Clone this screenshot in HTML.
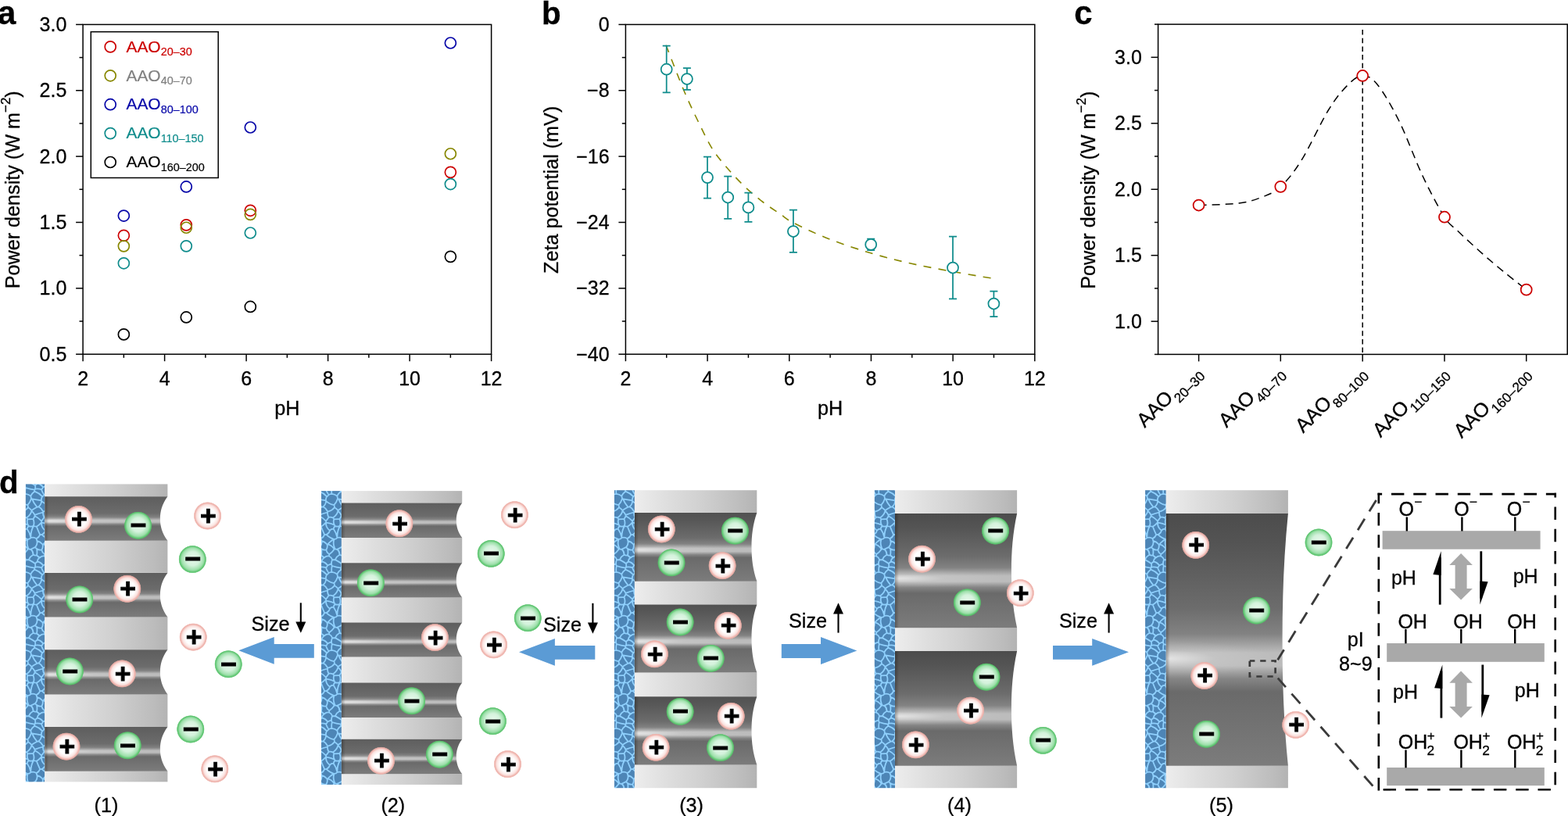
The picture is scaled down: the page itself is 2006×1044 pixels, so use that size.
<!DOCTYPE html>
<html lang="en"><head><meta charset="utf-8"><title>Figure</title>
<style>
html,body{margin:0;padding:0;background:#fff;}
body{width:2006px;height:1044px;overflow:hidden;}
svg{display:block;font-family:'Liberation Sans', sans-serif;}
text{stroke:#000;stroke-width:.3px;}
text.ion{stroke-width:.9px;}
</style></head><body>
<svg width="2006" height="1044" viewBox="0 0 2006 1044" fill="#000">
<rect width="2006" height="1044" fill="#fff"/>
<g id="pa">
<text x="-3" y="30.7" font-size="42" font-weight="bold">a</text>
<rect x="106.1" y="31.4" width="522.50" height="421.80" fill="none" stroke="#000" stroke-width="1.5"/>
<line x1="97.10" y1="453.20" x2="106.1" y2="453.20" stroke="#000" stroke-width="1.5"/>
<text x="85.30" y="461.60" text-anchor="end" font-size="25">0.5</text>
<line x1="101.50" y1="411.02" x2="106.1" y2="411.02" stroke="#000" stroke-width="1.5"/>
<line x1="97.10" y1="368.84" x2="106.1" y2="368.84" stroke="#000" stroke-width="1.5"/>
<text x="85.30" y="377.24" text-anchor="end" font-size="25">1.0</text>
<line x1="101.50" y1="326.66" x2="106.1" y2="326.66" stroke="#000" stroke-width="1.5"/>
<line x1="97.10" y1="284.48" x2="106.1" y2="284.48" stroke="#000" stroke-width="1.5"/>
<text x="85.30" y="292.88" text-anchor="end" font-size="25">1.5</text>
<line x1="101.50" y1="242.30" x2="106.1" y2="242.30" stroke="#000" stroke-width="1.5"/>
<line x1="97.10" y1="200.12" x2="106.1" y2="200.12" stroke="#000" stroke-width="1.5"/>
<text x="85.30" y="208.52" text-anchor="end" font-size="25">2.0</text>
<line x1="101.50" y1="157.94" x2="106.1" y2="157.94" stroke="#000" stroke-width="1.5"/>
<line x1="97.10" y1="115.76" x2="106.1" y2="115.76" stroke="#000" stroke-width="1.5"/>
<text x="85.30" y="124.16" text-anchor="end" font-size="25">2.5</text>
<line x1="101.50" y1="73.58" x2="106.1" y2="73.58" stroke="#000" stroke-width="1.5"/>
<line x1="97.10" y1="31.40" x2="106.1" y2="31.40" stroke="#000" stroke-width="1.5"/>
<text x="85.30" y="39.80" text-anchor="end" font-size="25">3.0</text>
<line x1="106.10" y1="453.2" x2="106.10" y2="462.20" stroke="#000" stroke-width="1.5"/>
<text x="106.10" y="493.20" text-anchor="middle" font-size="25">2</text>
<line x1="158.35" y1="453.2" x2="158.35" y2="457.80" stroke="#000" stroke-width="1.5"/>
<line x1="210.60" y1="453.2" x2="210.60" y2="462.20" stroke="#000" stroke-width="1.5"/>
<text x="210.60" y="493.20" text-anchor="middle" font-size="25">4</text>
<line x1="262.85" y1="453.2" x2="262.85" y2="457.80" stroke="#000" stroke-width="1.5"/>
<line x1="315.10" y1="453.2" x2="315.10" y2="462.20" stroke="#000" stroke-width="1.5"/>
<text x="315.10" y="493.20" text-anchor="middle" font-size="25">6</text>
<line x1="367.35" y1="453.2" x2="367.35" y2="457.80" stroke="#000" stroke-width="1.5"/>
<line x1="419.60" y1="453.2" x2="419.60" y2="462.20" stroke="#000" stroke-width="1.5"/>
<text x="419.60" y="493.20" text-anchor="middle" font-size="25">8</text>
<line x1="471.85" y1="453.2" x2="471.85" y2="457.80" stroke="#000" stroke-width="1.5"/>
<line x1="524.10" y1="453.2" x2="524.10" y2="462.20" stroke="#000" stroke-width="1.5"/>
<text x="524.10" y="493.20" text-anchor="middle" font-size="25">10</text>
<line x1="576.35" y1="453.2" x2="576.35" y2="457.80" stroke="#000" stroke-width="1.5"/>
<line x1="628.60" y1="453.2" x2="628.60" y2="462.20" stroke="#000" stroke-width="1.5"/>
<text x="628.60" y="493.20" text-anchor="middle" font-size="25">12</text>
<text x="367.4" y="530.9" text-anchor="middle" font-size="25.2">pH</text>
<text transform="translate(25,242.8) rotate(-90)" text-anchor="middle" font-size="25.2">Power density (W m<tspan dy="-12.5" font-size="17">−2</tspan><tspan dy="12.5">)</tspan></text>
<circle cx="158.35" cy="301.35" r="7" fill="none" stroke="#cc0000" stroke-width="1.7"/>
<circle cx="238.29" cy="287.85" r="7" fill="none" stroke="#cc0000" stroke-width="1.7"/>
<circle cx="320.32" cy="269.30" r="7" fill="none" stroke="#cc0000" stroke-width="1.7"/>
<circle cx="576.35" cy="220.37" r="7" fill="none" stroke="#cc0000" stroke-width="1.7"/>
<circle cx="158.35" cy="314.85" r="7" fill="none" stroke="#878700" stroke-width="1.7"/>
<circle cx="238.29" cy="291.23" r="7" fill="none" stroke="#878700" stroke-width="1.7"/>
<circle cx="320.32" cy="274.36" r="7" fill="none" stroke="#878700" stroke-width="1.7"/>
<circle cx="576.35" cy="196.75" r="7" fill="none" stroke="#878700" stroke-width="1.7"/>
<circle cx="158.35" cy="276.04" r="7" fill="none" stroke="#0606a8" stroke-width="1.7"/>
<circle cx="238.29" cy="238.93" r="7" fill="none" stroke="#0606a8" stroke-width="1.7"/>
<circle cx="320.32" cy="163.00" r="7" fill="none" stroke="#0606a8" stroke-width="1.7"/>
<circle cx="576.35" cy="55.02" r="7" fill="none" stroke="#0606a8" stroke-width="1.7"/>
<circle cx="158.35" cy="336.78" r="7" fill="none" stroke="#0f8c8c" stroke-width="1.7"/>
<circle cx="238.29" cy="314.85" r="7" fill="none" stroke="#0f8c8c" stroke-width="1.7"/>
<circle cx="320.32" cy="297.98" r="7" fill="none" stroke="#0f8c8c" stroke-width="1.7"/>
<circle cx="576.35" cy="235.55" r="7" fill="none" stroke="#0f8c8c" stroke-width="1.7"/>
<circle cx="158.35" cy="427.89" r="7" fill="none" stroke="#000" stroke-width="1.7"/>
<circle cx="238.29" cy="405.96" r="7" fill="none" stroke="#000" stroke-width="1.7"/>
<circle cx="320.32" cy="392.46" r="7" fill="none" stroke="#000" stroke-width="1.7"/>
<circle cx="576.35" cy="328.35" r="7" fill="none" stroke="#000" stroke-width="1.7"/>
<rect x="116.3" y="40.7" width="162.9" height="186.8" fill="#fff" stroke="#000" stroke-width="1.5"/>
<circle cx="141.20" cy="59.90" r="7" fill="none" stroke="#cc0000" stroke-width="1.7"/>
<text x="161.5" y="66.60" font-size="20.9" fill="#cc0000" style="stroke:#cc0000;stroke-width:.2px">AAO<tspan dy="4.6" font-size="14.4">20–30</tspan></text>
<circle cx="141.20" cy="96.80" r="7" fill="none" stroke="#878700" stroke-width="1.7"/>
<text x="161.5" y="103.50" font-size="20.9" fill="#808080" style="stroke:#808080;stroke-width:.2px">AAO<tspan dy="4.6" font-size="14.4">40–70</tspan></text>
<circle cx="141.20" cy="133.70" r="7" fill="none" stroke="#0606a8" stroke-width="1.7"/>
<text x="161.5" y="140.40" font-size="20.9" fill="#0606a8" style="stroke:#0606a8;stroke-width:.2px">AAO<tspan dy="4.6" font-size="14.4">80–100</tspan></text>
<circle cx="141.20" cy="170.60" r="7" fill="none" stroke="#0f8c8c" stroke-width="1.7"/>
<text x="161.5" y="177.30" font-size="20.9" fill="#0f8c8c" style="stroke:#0f8c8c;stroke-width:.2px">AAO<tspan dy="4.6" font-size="14.4">110–150</tspan></text>
<circle cx="141.20" cy="207.50" r="7" fill="none" stroke="#000" stroke-width="1.7"/>
<text x="161.5" y="214.20" font-size="20.9" fill="#000" style="stroke:#000;stroke-width:.2px">AAO<tspan dy="4.6" font-size="14.4">160–200</tspan></text>
</g>
<g id="pb">
<text x="693" y="30.6" font-size="40.4" font-weight="bold">b</text>
<rect x="800.4" y="31.4" width="523.40" height="421.80" fill="none" stroke="#000" stroke-width="1.5"/>
<line x1="791.40" y1="453.20" x2="800.4" y2="453.20" stroke="#000" stroke-width="1.5"/>
<text x="779.60" y="461.60" text-anchor="end" font-size="25">−40</text>
<line x1="795.80" y1="411.02" x2="800.4" y2="411.02" stroke="#000" stroke-width="1.5"/>
<line x1="791.40" y1="368.84" x2="800.4" y2="368.84" stroke="#000" stroke-width="1.5"/>
<text x="779.60" y="377.24" text-anchor="end" font-size="25">−32</text>
<line x1="795.80" y1="326.66" x2="800.4" y2="326.66" stroke="#000" stroke-width="1.5"/>
<line x1="791.40" y1="284.48" x2="800.4" y2="284.48" stroke="#000" stroke-width="1.5"/>
<text x="779.60" y="292.88" text-anchor="end" font-size="25">−24</text>
<line x1="795.80" y1="242.30" x2="800.4" y2="242.30" stroke="#000" stroke-width="1.5"/>
<line x1="791.40" y1="200.12" x2="800.4" y2="200.12" stroke="#000" stroke-width="1.5"/>
<text x="779.60" y="208.52" text-anchor="end" font-size="25">−16</text>
<line x1="795.80" y1="157.94" x2="800.4" y2="157.94" stroke="#000" stroke-width="1.5"/>
<line x1="791.40" y1="115.76" x2="800.4" y2="115.76" stroke="#000" stroke-width="1.5"/>
<text x="779.60" y="124.16" text-anchor="end" font-size="25">−8</text>
<line x1="795.80" y1="73.58" x2="800.4" y2="73.58" stroke="#000" stroke-width="1.5"/>
<line x1="791.40" y1="31.40" x2="800.4" y2="31.40" stroke="#000" stroke-width="1.5"/>
<text x="779.60" y="39.80" text-anchor="end" font-size="25">0</text>
<line x1="800.40" y1="453.2" x2="800.40" y2="462.20" stroke="#000" stroke-width="1.5"/>
<text x="800.40" y="493.20" text-anchor="middle" font-size="25">2</text>
<line x1="852.74" y1="453.2" x2="852.74" y2="457.80" stroke="#000" stroke-width="1.5"/>
<line x1="905.08" y1="453.2" x2="905.08" y2="462.20" stroke="#000" stroke-width="1.5"/>
<text x="905.08" y="493.20" text-anchor="middle" font-size="25">4</text>
<line x1="957.42" y1="453.2" x2="957.42" y2="457.80" stroke="#000" stroke-width="1.5"/>
<line x1="1009.76" y1="453.2" x2="1009.76" y2="462.20" stroke="#000" stroke-width="1.5"/>
<text x="1009.76" y="493.20" text-anchor="middle" font-size="25">6</text>
<line x1="1062.10" y1="453.2" x2="1062.10" y2="457.80" stroke="#000" stroke-width="1.5"/>
<line x1="1114.44" y1="453.2" x2="1114.44" y2="462.20" stroke="#000" stroke-width="1.5"/>
<text x="1114.44" y="493.20" text-anchor="middle" font-size="25">8</text>
<line x1="1166.78" y1="453.2" x2="1166.78" y2="457.80" stroke="#000" stroke-width="1.5"/>
<line x1="1219.12" y1="453.2" x2="1219.12" y2="462.20" stroke="#000" stroke-width="1.5"/>
<text x="1219.12" y="493.20" text-anchor="middle" font-size="25">10</text>
<line x1="1271.46" y1="453.2" x2="1271.46" y2="457.80" stroke="#000" stroke-width="1.5"/>
<line x1="1323.80" y1="453.2" x2="1323.80" y2="462.20" stroke="#000" stroke-width="1.5"/>
<text x="1323.80" y="493.20" text-anchor="middle" font-size="25">12</text>
<text x="1062.1" y="530.9" text-anchor="middle" font-size="25.2">pH</text>
<text transform="translate(714,242.8) rotate(-90)" text-anchor="middle" font-size="25.2">Zeta potential (mV)</text>
<path d="M852.00 57.70C855.83 67.42 868.17 99.78 875.00 116.00C881.83 132.22 886.97 142.62 893.00 155.00C899.03 167.38 904.90 180.23 911.20 190.30C917.50 200.37 923.82 207.27 930.80 215.40C937.78 223.53 945.67 232.00 953.10 239.10C960.53 246.20 967.95 252.25 975.40 258.00C982.85 263.75 991.23 269.10 997.80 273.60C1004.37 278.10 1004.43 279.68 1014.80 285.00C1025.17 290.32 1043.47 299.03 1060.00 305.50C1076.53 311.97 1096.50 318.55 1114.00 323.80C1131.50 329.05 1147.50 333.05 1165.00 337.00C1182.50 340.95 1201.05 344.22 1219.00 347.50C1236.95 350.78 1263.75 355.17 1272.70 356.70" fill="none" stroke="#878700" stroke-width="1.6" stroke-dasharray="10 9.3"/>
<path d="M852.70 58.50V118.30M847.70 58.50h10M847.70 118.30h10" fill="none" stroke="#0f8c8c" stroke-width="1.75"/>
<circle cx="852.70" cy="88.70" r="7" fill="#fff" stroke="#0f8c8c" stroke-width="1.75"/>
<path d="M878.90 87.00V114.90M873.90 87.00h10M873.90 114.90h10" fill="none" stroke="#0f8c8c" stroke-width="1.75"/>
<circle cx="878.90" cy="101.00" r="7" fill="#fff" stroke="#0f8c8c" stroke-width="1.75"/>
<path d="M905.00 200.60V253.70M900.00 200.60h10M900.00 253.70h10" fill="none" stroke="#0f8c8c" stroke-width="1.75"/>
<circle cx="905.00" cy="227.10" r="7" fill="#fff" stroke="#0f8c8c" stroke-width="1.75"/>
<path d="M931.20 225.70V279.90M926.20 225.70h10M926.20 279.90h10" fill="none" stroke="#0f8c8c" stroke-width="1.75"/>
<circle cx="931.20" cy="252.50" r="7" fill="#fff" stroke="#0f8c8c" stroke-width="1.75"/>
<path d="M957.40 246.70V283.80M952.40 246.70h10M952.40 283.80h10" fill="none" stroke="#0f8c8c" stroke-width="1.75"/>
<circle cx="957.40" cy="265.40" r="7" fill="#fff" stroke="#0f8c8c" stroke-width="1.75"/>
<path d="M1014.90 268.60V322.90M1009.90 268.60h10M1009.90 322.90h10" fill="none" stroke="#0f8c8c" stroke-width="1.75"/>
<circle cx="1014.90" cy="296.00" r="7" fill="#fff" stroke="#0f8c8c" stroke-width="1.75"/>
<path d="M1114.20 305.60V320.10M1109.20 305.60h10M1109.20 320.10h10" fill="none" stroke="#0f8c8c" stroke-width="1.75"/>
<circle cx="1114.20" cy="312.90" r="7" fill="#fff" stroke="#0f8c8c" stroke-width="1.75"/>
<path d="M1219.00 302.50V382.40M1214.00 302.50h10M1214.00 382.40h10" fill="none" stroke="#0f8c8c" stroke-width="1.75"/>
<circle cx="1219.00" cy="342.50" r="7" fill="#fff" stroke="#0f8c8c" stroke-width="1.75"/>
<path d="M1271.40 372.60V405.00M1266.40 372.60h10M1266.40 405.00h10" fill="none" stroke="#0f8c8c" stroke-width="1.75"/>
<circle cx="1271.40" cy="388.50" r="7" fill="#fff" stroke="#0f8c8c" stroke-width="1.75"/>
</g>
<g id="pc">
<text x="1374.3" y="30.7" font-size="42" font-weight="bold">c</text>
<rect x="1481.6" y="31.1" width="523.60" height="422.30" fill="none" stroke="#000" stroke-width="1.5"/>
<line x1="1477.00" y1="453.40" x2="1481.6" y2="453.40" stroke="#000" stroke-width="1.5"/>
<line x1="1472.60" y1="411.17" x2="1481.6" y2="411.17" stroke="#000" stroke-width="1.5"/>
<text x="1460.80" y="419.57" text-anchor="end" font-size="25">1.0</text>
<line x1="1477.00" y1="368.94" x2="1481.6" y2="368.94" stroke="#000" stroke-width="1.5"/>
<line x1="1472.60" y1="326.71" x2="1481.6" y2="326.71" stroke="#000" stroke-width="1.5"/>
<text x="1460.80" y="335.11" text-anchor="end" font-size="25">1.5</text>
<line x1="1477.00" y1="284.48" x2="1481.6" y2="284.48" stroke="#000" stroke-width="1.5"/>
<line x1="1472.60" y1="242.25" x2="1481.6" y2="242.25" stroke="#000" stroke-width="1.5"/>
<text x="1460.80" y="250.65" text-anchor="end" font-size="25">2.0</text>
<line x1="1477.00" y1="200.02" x2="1481.6" y2="200.02" stroke="#000" stroke-width="1.5"/>
<line x1="1472.60" y1="157.79" x2="1481.6" y2="157.79" stroke="#000" stroke-width="1.5"/>
<text x="1460.80" y="166.19" text-anchor="end" font-size="25">2.5</text>
<line x1="1477.00" y1="115.56" x2="1481.6" y2="115.56" stroke="#000" stroke-width="1.5"/>
<line x1="1472.60" y1="73.33" x2="1481.6" y2="73.33" stroke="#000" stroke-width="1.5"/>
<text x="1460.80" y="81.73" text-anchor="end" font-size="25">3.0</text>
<line x1="1477.00" y1="31.10" x2="1481.6" y2="31.10" stroke="#000" stroke-width="1.5"/>
<line x1="1533.60" y1="453.4" x2="1533.60" y2="462.40" stroke="#000" stroke-width="1.5"/>
<text transform="translate(1536.5,476.0) rotate(-45)" text-anchor="end" font-size="25.3">AAO<tspan dy="9" dx="0.6" font-size="17.2">20–30</tspan></text>
<line x1="1638.30" y1="453.4" x2="1638.30" y2="462.40" stroke="#000" stroke-width="1.5"/>
<text transform="translate(1641.2,476.0) rotate(-45)" text-anchor="end" font-size="25.3">AAO<tspan dy="9" dx="0.6" font-size="17.2">40–70</tspan></text>
<line x1="1743.20" y1="453.4" x2="1743.20" y2="462.40" stroke="#000" stroke-width="1.5"/>
<text transform="translate(1746.1,476.0) rotate(-45)" text-anchor="end" font-size="25.3">AAO<tspan dy="9" dx="0.6" font-size="17.2">80–100</tspan></text>
<line x1="1848.00" y1="453.4" x2="1848.00" y2="462.40" stroke="#000" stroke-width="1.5"/>
<text transform="translate(1850.9,476.0) rotate(-45)" text-anchor="end" font-size="25.3">AAO<tspan dy="9" dx="0.6" font-size="17.2">110–150</tspan></text>
<line x1="1952.70" y1="453.4" x2="1952.70" y2="462.40" stroke="#000" stroke-width="1.5"/>
<text transform="translate(1955.6,476.0) rotate(-45)" text-anchor="end" font-size="25.3">AAO<tspan dy="9" dx="0.6" font-size="17.2">160–200</tspan></text>
<text transform="translate(1401,243.2) rotate(-90)" text-anchor="middle" font-size="25.2">Power density (W m<tspan dy="-12.5" font-size="17">−2</tspan><tspan dy="12.5">)</tspan></text>
<line x1="1743.2" y1="38" x2="1743.2" y2="453.4" stroke="#000" stroke-width="1.5" stroke-dasharray="6.5 4.2"/>
<path d="M1533.60 262.52C1542.17 262.10 1571.43 261.75 1585.00 260.00C1598.57 258.25 1606.12 255.52 1615.00 252.00C1623.88 248.48 1629.97 246.70 1638.30 238.87C1646.63 231.04 1654.72 221.48 1665.00 205.00C1675.28 188.52 1690.00 156.17 1700.00 140.00C1710.00 123.83 1717.80 115.17 1725.00 108.00C1732.20 100.83 1737.03 96.98 1743.20 96.98C1749.37 96.98 1754.20 98.33 1762.00 108.00C1769.80 117.67 1780.33 135.50 1790.00 155.00C1799.67 174.50 1810.33 204.55 1820.00 225.00C1829.67 245.45 1840.57 266.02 1848.00 277.72C1855.43 289.42 1856.55 287.42 1864.60 295.20C1872.65 302.98 1886.23 315.48 1896.30 324.40C1906.37 333.32 1915.60 341.00 1925.00 348.70C1934.40 356.40 1948.08 366.97 1952.70 370.63" fill="none" stroke="#000" stroke-width="1.5" stroke-dasharray="10 7"/>
<circle cx="1533.60" cy="262.52" r="7" fill="#fff" stroke="#cc0000" stroke-width="1.75"/>
<circle cx="1638.30" cy="238.87" r="7" fill="#fff" stroke="#cc0000" stroke-width="1.75"/>
<circle cx="1743.20" cy="96.98" r="7" fill="#fff" stroke="#cc0000" stroke-width="1.75"/>
<circle cx="1848.00" cy="277.72" r="7" fill="#fff" stroke="#cc0000" stroke-width="1.75"/>
<circle cx="1952.70" cy="370.63" r="7" fill="#fff" stroke="#cc0000" stroke-width="1.75"/>
</g>
<defs>
<linearGradient id="gw" x1="0" x2="1" y1="0" y2="0"><stop offset="0" stop-color="#ededed"/><stop offset="0.25" stop-color="#dfdfdf"/><stop offset="0.55" stop-color="#d0d0d0"/><stop offset="0.9" stop-color="#bbb"/><stop offset="1" stop-color="#b3b3b3"/></linearGradient>
<linearGradient id="gc" x1="0" x2="0" y1="0" y2="1"><stop offset="0.000" stop-color="#5e5e5e"/><stop offset="0.120" stop-color="#626262"/><stop offset="0.380" stop-color="#6c6c6c"/><stop offset="0.470" stop-color="#828282"/><stop offset="0.535" stop-color="#bcbcbc"/><stop offset="0.580" stop-color="#bcbcbc"/><stop offset="0.625" stop-color="#858585"/><stop offset="0.670" stop-color="#6a6a6a"/><stop offset="1.000" stop-color="#7c7c7c"/></linearGradient>
<linearGradient id="gc3" x1="0" x2="0" y1="0" y2="1"><stop offset="0.000" stop-color="#515151"/><stop offset="0.120" stop-color="#585858"/><stop offset="0.365" stop-color="#6c6c6c"/><stop offset="0.455" stop-color="#828282"/><stop offset="0.520" stop-color="#bcbcbc"/><stop offset="0.565" stop-color="#bcbcbc"/><stop offset="0.610" stop-color="#858585"/><stop offset="0.655" stop-color="#6a6a6a"/><stop offset="1.000" stop-color="#7c7c7c"/></linearGradient>
<linearGradient id="gc4" x1="0" x2="0" y1="0" y2="1"><stop offset="0.000" stop-color="#4c4c4c"/><stop offset="0.120" stop-color="#545454"/><stop offset="0.372" stop-color="#6c6c6c"/><stop offset="0.473" stop-color="#828282"/><stop offset="0.546" stop-color="#bcbcbc"/><stop offset="0.596" stop-color="#bcbcbc"/><stop offset="0.646" stop-color="#858585"/><stop offset="0.697" stop-color="#6a6a6a"/><stop offset="1.000" stop-color="#7c7c7c"/></linearGradient>
<linearGradient id="gc5" x1="0" x2="0" y1="0" y2="1"><stop offset="0.000" stop-color="#4c4c4c"/><stop offset="0.120" stop-color="#545454"/><stop offset="0.374" stop-color="#6c6c6c"/><stop offset="0.477" stop-color="#828282"/><stop offset="0.552" stop-color="#bcbcbc"/><stop offset="0.604" stop-color="#bcbcbc"/><stop offset="0.655" stop-color="#858585"/><stop offset="0.707" stop-color="#6a6a6a"/><stop offset="1.000" stop-color="#7c7c7c"/></linearGradient>
<radialGradient id="gh" cx="0" cy="0.5" r="1" gradientTransform="translate(0 0.5) scale(1 0.5) translate(0 -0.5)"><stop offset="0" stop-color="#fff" stop-opacity="0.62"/><stop offset="0.45" stop-color="#fff" stop-opacity="0.12"/><stop offset="1" stop-color="#fff" stop-opacity="0"/></radialGradient>
<linearGradient id="gl" x1="0" x2="1" y1="0" y2="0"><stop offset="0" stop-color="#000" stop-opacity="0.28"/><stop offset="1" stop-color="#000" stop-opacity="0"/></linearGradient>
<radialGradient id="gp" cx="0.5" cy="0.5" r="0.5"><stop offset="0" stop-color="#fff"/><stop offset="0.55" stop-color="#fff"/><stop offset="0.78" stop-color="#fbe4e1"/><stop offset="0.92" stop-color="#eeb0a9"/><stop offset="0.97" stop-color="#eeb0a9" stop-opacity="0.7"/><stop offset="1" stop-color="#eeb0a9" stop-opacity="0"/></radialGradient>
<radialGradient id="gn" cx="0.5" cy="0.5" r="0.5" fx="0.52" fy="0.45"><stop offset="0" stop-color="#e8f9ec"/><stop offset="0.5" stop-color="#d4f2dc"/><stop offset="0.79" stop-color="#9ee0ab"/><stop offset="0.93" stop-color="#5bc46e"/><stop offset="0.97" stop-color="#55c168" stop-opacity="0.7"/><stop offset="1" stop-color="#55c168" stop-opacity="0"/></radialGradient>
<pattern id="ptex" patternUnits="userSpaceOnUse" width="28.0" height="100.0"><rect width="28.0" height="100.0" fill="#4d85b6"/><path d="M-6.6 48.3Q-2.6 50.4 -0.7 54.5M-0.7 54.5Q4.7 53.7 7.9 49.3M-3.0 40.8Q1.4 45.1 7.3 46.2M7.3 46.2Q8.1 47.7 7.9 49.3M-11.6 58.8Q-6.3 56.9 -0.9 55.5M-0.9 55.5Q-1.3 58.9 0.6 61.8M-3.0 66.6Q-1.0 64.4 0.6 61.8M13.0 38.4Q15.3 44.2 19.5 48.8M13.0 38.4Q19.0 39.4 24.9 40.4M24.9 40.4L25.0 40.8M21.4 48.3Q25.1 45.5 25.0 40.8M19.5 48.8Q20.4 48.3 21.4 48.3M7.3 46.2Q10.6 42.6 12.0 38.0M12.0 38.0Q12.5 38.4 13.0 38.4M12.4 53.0Q15.7 50.6 19.5 48.8M7.9 49.3Q10.5 50.7 12.4 53.0M21.4 48.3Q25.4 50.4 27.3 54.5M27.3 54.5Q32.7 53.7 35.9 49.3M25.0 40.8Q29.4 45.1 35.3 46.2M-2.7 3.4Q-0.6 0.2 -1.5 -3.5M-3.1 40.4Q-3.4 37.6 -1.8 35.3M-11.8 28.7Q-6.0 30.8 -1.8 35.3M11.3 34.7Q11.8 36.3 12.0 38.0M-1.8 35.3Q-0.5 34.3 0.6 33.0M0.6 33.0Q2.4 32.0 4.4 31.8M4.4 31.8Q8.4 32.1 11.3 34.7M-0.9 55.5Q-0.8 55.0 -0.7 54.5M16.9 0.2Q20.4 -3.3 19.3 -8.1M25.3 3.4Q27.4 0.2 26.5 -3.5M19.0 2.0Q21.8 4.3 25.3 3.4M16.9 0.2Q17.8 1.3 19.0 2.0M25.0 68.7Q24.8 75.1 30.0 78.7M25.0 68.7Q30.7 69.4 35.9 71.8M27.1 55.5Q27.2 55.0 27.3 54.5M27.1 55.5Q26.7 58.9 28.6 61.8M28.6 61.8Q31.4 61.1 33.9 62.5M-3.0 26.2Q-1.4 25.2 -1.0 23.4M-8.2 18.5Q-3.5 19.3 -1.0 23.4M-3.0 26.2Q-1.9 30.0 0.6 33.0M24.9 40.4Q24.6 37.6 26.2 35.3M11.3 34.7Q12.9 31.0 16.2 28.7M16.2 28.7Q22.0 30.8 26.2 35.3M4.4 31.8Q3.8 27.8 4.8 24.0M-1.0 23.4Q1.6 22.6 4.0 21.3M4.0 21.3Q4.0 22.8 4.8 24.0M16.2 28.7Q15.8 27.6 16.5 26.6M4.8 24.0Q10.5 26.0 16.5 26.6M25.0 66.6Q27.0 64.4 28.6 61.8M25.0 68.7L24.8 68.6M24.8 68.6Q25.4 67.6 25.0 66.6M25.6 84.0Q29.0 82.3 30.0 78.7M25.6 84.0Q29.5 88.2 35.0 89.9M18.8 73.7Q22.2 71.7 24.8 68.6M18.8 73.7Q20.8 79.0 23.2 84.1M23.2 84.1Q24.4 84.2 25.6 84.0M7.5 89.9Q10.0 89.9 11.5 88.0M7.5 89.9L7.0 89.9M-2.4 84.0Q1.5 88.2 7.0 89.9M11.4 87.6L11.5 88.0M6.7 76.7Q10.3 81.6 11.4 87.6M-2.4 84.0Q1.0 82.3 2.0 78.7M2.0 78.7Q3.9 76.5 6.7 76.7M7.5 89.9Q5.3 96.3 8.7 102.2M-0.6 96.3Q4.8 97.8 7.7 102.7M-0.6 96.3Q2.6 92.4 7.0 89.9M14.9 73.0Q16.8 73.7 18.8 73.7M11.4 87.6Q11.2 79.8 14.9 73.0M18.5 89.1Q21.9 87.6 23.2 84.1M11.5 88.0Q15.3 86.7 18.5 89.1M8.9 73.1Q11.9 74.3 14.8 72.9M6.7 76.7Q6.8 74.3 8.9 73.1M14.9 73.0L14.8 72.9M-3.0 68.7Q-3.2 75.1 2.0 78.7M-3.0 68.7Q2.7 69.4 7.9 71.8M7.9 71.8Q8.4 72.4 8.9 73.1M-2.7 103.4Q-0.6 100.2 -1.5 96.5M-8.7 91.9Q-4.4 93.1 -1.5 96.5M-1.5 96.5Q-1.0 96.6 -0.6 96.3M27.4 -3.7Q32.8 -2.2 35.7 2.7M25.3 3.4Q25.9 7.3 29.4 9.1M29.4 9.1Q33.1 6.4 35.7 2.7M28.6 33.0Q30.4 32.0 32.4 31.8M26.2 35.3Q27.5 34.3 28.6 33.0M27.4 96.3Q30.6 92.4 35.0 89.9M27.4 96.3Q32.8 97.8 35.7 102.7M-4.9 13.3Q-2.5 10.8 1.0 11.5M4.0 21.3Q4.0 18.6 5.1 16.0M1.0 11.5Q4.1 12.8 5.1 16.0M-2.7 3.4Q-2.1 7.3 1.4 9.1M1.0 11.5Q1.1 10.2 1.4 9.1M-0.6 -3.7Q4.8 -2.2 7.7 2.7M1.4 9.1Q5.1 6.4 7.7 2.7M7.5 -10.1Q5.3 -3.7 8.7 2.2M11.4 2.7Q14.1 1.3 16.9 0.2M8.7 2.2Q9.9 3.0 11.4 2.7M7.7 2.7Q8.2 2.5 8.7 2.2M25.0 26.2Q26.1 30.0 28.6 33.0M16.5 26.6Q16.9 26.3 16.9 25.7M16.9 25.7Q21.0 25.0 25.0 26.2M27.0 23.4Q29.6 22.6 32.0 21.3M25.0 26.2Q26.6 25.2 27.0 23.4M14.4 64.1Q15.5 62.2 16.7 60.3M7.3 64.3Q10.8 64.0 14.4 64.1M12.5 53.6Q14.9 55.9 16.4 58.8M5.9 62.5Q11.0 59.4 12.5 53.6M16.4 58.8Q16.7 59.5 16.7 60.3M5.9 62.5Q7.0 63.1 7.3 64.3M14.4 64.1Q16.4 68.4 14.8 72.9M16.7 60.3Q21.3 62.7 25.0 66.6M7.3 64.3Q5.9 68.2 7.9 71.8M12.4 53.0L12.5 53.6M16.4 58.8Q21.7 56.9 27.1 55.5M0.6 61.8Q3.4 61.1 5.9 62.5M19.3 91.9Q23.6 93.1 26.5 96.5M16.9 100.2Q20.4 96.7 19.3 91.9M16.9 100.2Q17.8 101.3 19.0 102.0M19.0 102.0Q21.8 104.3 25.3 103.4M25.3 103.4Q27.4 100.2 26.5 96.5M18.5 89.1Q18.9 90.5 19.3 91.9M26.5 96.5Q27.0 96.6 27.4 96.3M11.4 102.7Q14.1 101.3 16.9 100.2M19.0 110.4Q19.9 106.2 19.0 102.0M29.0 11.5Q29.1 10.2 29.4 9.1M29.0 11.5Q32.1 12.8 33.1 16.0M8.8 16.1Q10.5 11.8 14.5 9.7M8.8 16.1Q13.0 18.3 16.9 20.9M16.9 20.9Q18.4 19.7 19.8 18.5M19.8 18.5Q20.0 15.0 23.1 13.3M14.5 9.7Q16.6 11.1 19.0 10.4M19.0 10.4Q20.7 12.4 23.1 13.3M5.1 16.0Q7.0 16.4 8.8 16.1M11.4 2.7Q14.6 5.4 14.5 9.7M16.9 25.7Q17.6 23.3 16.9 20.9M19.8 18.5Q24.5 19.3 27.0 23.4M23.1 13.3Q25.5 10.8 29.0 11.5M19.0 10.4Q19.9 6.2 19.0 2.0" fill="none" stroke="#8fd0fd" stroke-width="1.8" stroke-linecap="round"/></pattern>
</defs>
<g id="pd">
<text x="-1" y="630.8" font-size="40.4" font-weight="bold">d</text>
<g id="blk1">
<rect x="32.8" y="619.4" width="24.50" height="380.90" fill="url(#ptex)"/>
<rect x="57.3" y="619.4" width="157.10" height="15.80" fill="url(#gw)"/>
<rect x="57.3" y="691.8" width="157.10" height="41.10" fill="url(#gw)"/>
<rect x="57.3" y="789.4" width="157.10" height="41.90" fill="url(#gw)"/>
<rect x="57.3" y="888.4" width="157.10" height="41.60" fill="url(#gw)"/>
<rect x="57.3" y="986.7" width="157.10" height="13.60" fill="url(#gw)"/>
<clipPath id="cc1_1"><path d="M57.3 635.2H214.4C207.28 644.82 204.90 653.88 204.90 663.50C204.90 673.12 207.28 682.18 214.4 691.8H57.3Z"/></clipPath>
<path d="M57.3 635.2H214.4C207.28 644.82 204.90 653.88 204.90 663.50C204.90 673.12 207.28 682.18 214.4 691.8H57.3Z" fill="url(#gc)"/>
<g clip-path="url(#cc1_1)">
<rect x="57.3" y="659.72" width="141.39" height="13.79" fill="url(#gh)"/>
<rect x="57.3" y="635.2" width="5" height="56.60" fill="url(#gl)"/>
</g>
<clipPath id="cc1_3"><path d="M57.3 732.9H214.4C207.28 742.50 204.90 751.54 204.90 761.15C204.90 770.75 207.28 779.79 214.4 789.4H57.3Z"/></clipPath>
<path d="M57.3 732.9H214.4C207.28 742.50 204.90 751.54 204.90 761.15C204.90 770.75 207.28 779.79 214.4 789.4H57.3Z" fill="url(#gc)"/>
<g clip-path="url(#cc1_3)">
<rect x="57.3" y="757.37" width="141.39" height="13.78" fill="url(#gh)"/>
<rect x="57.3" y="732.9" width="5" height="56.50" fill="url(#gl)"/>
</g>
<clipPath id="cc1_5"><path d="M57.3 831.3H214.4C207.28 841.01 204.90 850.14 204.90 859.85C204.90 869.56 207.28 878.69 214.4 888.4H57.3Z"/></clipPath>
<path d="M57.3 831.3H214.4C207.28 841.01 204.90 850.14 204.90 859.85C204.90 869.56 207.28 878.69 214.4 888.4H57.3Z" fill="url(#gc)"/>
<g clip-path="url(#cc1_5)">
<rect x="57.3" y="856.06" width="141.39" height="13.85" fill="url(#gh)"/>
<rect x="57.3" y="831.3" width="5" height="57.10" fill="url(#gl)"/>
</g>
<clipPath id="cc1_7"><path d="M57.3 930H214.4C207.28 939.64 204.90 948.71 204.90 958.35C204.90 967.99 207.28 977.06 214.4 986.7H57.3Z"/></clipPath>
<path d="M57.3 930H214.4C207.28 939.64 204.90 948.71 204.90 958.35C204.90 967.99 207.28 977.06 214.4 986.7H57.3Z" fill="url(#gc)"/>
<g clip-path="url(#cc1_7)">
<rect x="57.3" y="954.57" width="141.39" height="13.80" fill="url(#gh)"/>
<rect x="57.3" y="930" width="5" height="56.70" fill="url(#gl)"/>
</g>
<text x="136" y="1038.9" text-anchor="middle" font-size="25.2">(1)</text>
</g>
<g transform="translate(100.5 664.4)"><circle r="17.9" fill="url(#gp)"/><text x="0.8" y="11.9" text-anchor="middle" font-size="35.5" font-weight="bold" class="ion">+</text></g>
<g transform="translate(176.6 672.3)"><circle r="17.9" fill="url(#gn)"/><text x="0.1" y="11.8" text-anchor="middle" font-size="36" font-weight="bold" class="ion">−</text></g>
<g transform="translate(265.6 660)"><circle r="17.9" fill="url(#gp)"/><text x="0.8" y="11.9" text-anchor="middle" font-size="35.5" font-weight="bold" class="ion">+</text></g>
<g transform="translate(246.3 715.6)"><circle r="17.9" fill="url(#gn)"/><text x="0.1" y="11.8" text-anchor="middle" font-size="36" font-weight="bold" class="ion">−</text></g>
<g transform="translate(101.7 767)"><circle r="17.9" fill="url(#gn)"/><text x="0.1" y="11.8" text-anchor="middle" font-size="36" font-weight="bold" class="ion">−</text></g>
<g transform="translate(162.8 753.3)"><circle r="17.9" fill="url(#gp)"/><text x="0.8" y="11.9" text-anchor="middle" font-size="35.5" font-weight="bold" class="ion">+</text></g>
<g transform="translate(247.2 815.1)"><circle r="17.9" fill="url(#gp)"/><text x="0.8" y="11.9" text-anchor="middle" font-size="35.5" font-weight="bold" class="ion">+</text></g>
<g transform="translate(292.2 849.8)"><circle r="17.9" fill="url(#gn)"/><text x="0.1" y="11.8" text-anchor="middle" font-size="36" font-weight="bold" class="ion">−</text></g>
<g transform="translate(89.3 859)"><circle r="17.9" fill="url(#gn)"/><text x="0.1" y="11.8" text-anchor="middle" font-size="36" font-weight="bold" class="ion">−</text></g>
<g transform="translate(156.2 861.9)"><circle r="17.9" fill="url(#gp)"/><text x="0.8" y="11.9" text-anchor="middle" font-size="35.5" font-weight="bold" class="ion">+</text></g>
<g transform="translate(243.8 933)"><circle r="17.9" fill="url(#gn)"/><text x="0.1" y="11.8" text-anchor="middle" font-size="36" font-weight="bold" class="ion">−</text></g>
<g transform="translate(85 955.1)"><circle r="17.9" fill="url(#gp)"/><text x="0.8" y="11.9" text-anchor="middle" font-size="35.5" font-weight="bold" class="ion">+</text></g>
<g transform="translate(163.2 953.8)"><circle r="17.9" fill="url(#gn)"/><text x="0.1" y="11.8" text-anchor="middle" font-size="36" font-weight="bold" class="ion">−</text></g>
<g transform="translate(274.8 983.8)"><circle r="17.9" fill="url(#gp)"/><text x="0.8" y="11.9" text-anchor="middle" font-size="35.5" font-weight="bold" class="ion">+</text></g>
<path d="M305.3 832.3L350.7 814.9V823.9H401.8V841.8H350.7V849.6999999999999Z" fill="#5b9bd5"/>
<text x="321.5" y="806.6" font-size="25.2">Size</text>
<path d="M384.8 771.3V801.8" stroke="#000" stroke-width="2.1" fill="none"/>
<path d="M384.8 809.8l-6.5 -14.2h13z" fill="#000"/>
<g id="blk2">
<rect x="411.0" y="628.1" width="25.90" height="375.80" fill="url(#ptex)"/>
<rect x="436.9" y="628.1" width="154.30" height="15.30" fill="url(#gw)"/>
<rect x="436.9" y="688" width="154.30" height="32.30" fill="url(#gw)"/>
<rect x="436.9" y="764.5" width="154.30" height="31.90" fill="url(#gw)"/>
<rect x="436.9" y="840.6" width="154.30" height="32.80" fill="url(#gw)"/>
<rect x="436.9" y="918" width="154.30" height="27.70" fill="url(#gw)"/>
<rect x="436.9" y="990.3" width="154.30" height="13.60" fill="url(#gw)"/>
<clipPath id="cc2_1"><path d="M436.9 643.4H591.2C585.65 650.98 583.80 658.12 583.80 665.70C583.80 673.28 585.65 680.42 591.2 688H436.9Z"/></clipPath>
<path d="M436.9 643.4H591.2C585.65 650.98 583.80 658.12 583.80 665.70C583.80 673.28 585.65 680.42 591.2 688H436.9Z" fill="url(#gc)"/>
<g clip-path="url(#cc2_1)">
<rect x="436.9" y="661.98" width="138.87" height="12.35" fill="url(#gh)"/>
<rect x="436.9" y="643.4" width="5" height="44.60" fill="url(#gl)"/>
</g>
<clipPath id="cc2_3"><path d="M436.9 720.3H591.2C585.65 727.81 583.80 734.89 583.80 742.40C583.80 749.91 585.65 756.99 591.2 764.5H436.9Z"/></clipPath>
<path d="M436.9 720.3H591.2C585.65 727.81 583.80 734.89 583.80 742.40C583.80 749.91 585.65 756.99 591.2 764.5H436.9Z" fill="url(#gc)"/>
<g clip-path="url(#cc2_3)">
<rect x="436.9" y="738.68" width="138.87" height="12.30" fill="url(#gh)"/>
<rect x="436.9" y="720.3" width="5" height="44.20" fill="url(#gl)"/>
</g>
<clipPath id="cc2_5"><path d="M436.9 796.4H591.2C585.65 803.91 583.80 810.99 583.80 818.50C583.80 826.01 585.65 833.09 591.2 840.6H436.9Z"/></clipPath>
<path d="M436.9 796.4H591.2C585.65 803.91 583.80 810.99 583.80 818.50C583.80 826.01 585.65 833.09 591.2 840.6H436.9Z" fill="url(#gc)"/>
<g clip-path="url(#cc2_5)">
<rect x="436.9" y="814.78" width="138.87" height="12.30" fill="url(#gh)"/>
<rect x="436.9" y="796.4" width="5" height="44.20" fill="url(#gl)"/>
</g>
<clipPath id="cc2_7"><path d="M436.9 873.4H591.2C585.65 880.98 583.80 888.12 583.80 895.70C583.80 903.28 585.65 910.42 591.2 918H436.9Z"/></clipPath>
<path d="M436.9 873.4H591.2C585.65 880.98 583.80 888.12 583.80 895.70C583.80 903.28 585.65 910.42 591.2 918H436.9Z" fill="url(#gc)"/>
<g clip-path="url(#cc2_7)">
<rect x="436.9" y="891.98" width="138.87" height="12.35" fill="url(#gh)"/>
<rect x="436.9" y="873.4" width="5" height="44.60" fill="url(#gl)"/>
</g>
<clipPath id="cc2_9"><path d="M436.9 945.7H591.2C585.65 953.28 583.80 960.42 583.80 968.00C583.80 975.58 585.65 982.72 591.2 990.3H436.9Z"/></clipPath>
<path d="M436.9 945.7H591.2C585.65 953.28 583.80 960.42 583.80 968.00C583.80 975.58 585.65 982.72 591.2 990.3H436.9Z" fill="url(#gc)"/>
<g clip-path="url(#cc2_9)">
<rect x="436.9" y="964.28" width="138.87" height="12.35" fill="url(#gh)"/>
<rect x="436.9" y="945.7" width="5" height="44.60" fill="url(#gl)"/>
</g>
<text x="502.8" y="1038.9" text-anchor="middle" font-size="25.2">(2)</text>
</g>
<g transform="translate(510.9 669.7)"><circle r="17.9" fill="url(#gp)"/><text x="0.8" y="11.9" text-anchor="middle" font-size="35.5" font-weight="bold" class="ion">+</text></g>
<g transform="translate(658.4 658.7)"><circle r="17.9" fill="url(#gp)"/><text x="0.8" y="11.9" text-anchor="middle" font-size="35.5" font-weight="bold" class="ion">+</text></g>
<g transform="translate(628.2 708.4)"><circle r="17.9" fill="url(#gn)"/><text x="0.1" y="11.8" text-anchor="middle" font-size="36" font-weight="bold" class="ion">−</text></g>
<g transform="translate(474.3 745.8)"><circle r="17.9" fill="url(#gn)"/><text x="0.1" y="11.8" text-anchor="middle" font-size="36" font-weight="bold" class="ion">−</text></g>
<g transform="translate(675.2 790.7)"><circle r="17.9" fill="url(#gn)"/><text x="0.1" y="11.8" text-anchor="middle" font-size="36" font-weight="bold" class="ion">−</text></g>
<g transform="translate(556.4 815.6)"><circle r="17.9" fill="url(#gp)"/><text x="0.8" y="11.9" text-anchor="middle" font-size="35.5" font-weight="bold" class="ion">+</text></g>
<g transform="translate(631.6 824.9)"><circle r="17.9" fill="url(#gp)"/><text x="0.8" y="11.9" text-anchor="middle" font-size="35.5" font-weight="bold" class="ion">+</text></g>
<g transform="translate(526.6 896.8)"><circle r="17.9" fill="url(#gn)"/><text x="0.1" y="11.8" text-anchor="middle" font-size="36" font-weight="bold" class="ion">−</text></g>
<g transform="translate(630.4 922.7)"><circle r="17.9" fill="url(#gn)"/><text x="0.1" y="11.8" text-anchor="middle" font-size="36" font-weight="bold" class="ion">−</text></g>
<g transform="translate(487.5 973.3)"><circle r="17.9" fill="url(#gp)"/><text x="0.8" y="11.9" text-anchor="middle" font-size="35.5" font-weight="bold" class="ion">+</text></g>
<g transform="translate(562.3 965.2)"><circle r="17.9" fill="url(#gn)"/><text x="0.1" y="11.8" text-anchor="middle" font-size="36" font-weight="bold" class="ion">−</text></g>
<g transform="translate(649.5 977.6)"><circle r="17.9" fill="url(#gp)"/><text x="0.8" y="11.9" text-anchor="middle" font-size="35.5" font-weight="bold" class="ion">+</text></g>
<path d="M664.0 834.3L709.9 816.9V825.9H761.3V843.8H709.9V851.6999999999999Z" fill="#5b9bd5"/>
<text x="695" y="807.8" font-size="25.2">Size</text>
<path d="M758.4 771.8V802.8" stroke="#000" stroke-width="2.1" fill="none"/>
<path d="M758.4 810.8l-6.5 -14.2h13z" fill="#000"/>
<g id="blk3">
<rect x="785.9" y="627.2" width="26.00" height="381.00" fill="url(#ptex)"/>
<rect x="811.9" y="627.2" width="156.40" height="28.90" fill="url(#gw)"/>
<rect x="811.9" y="743.7" width="156.40" height="29.80" fill="url(#gw)"/>
<rect x="811.9" y="860.6" width="156.40" height="30.60" fill="url(#gw)"/>
<rect x="811.9" y="978.4" width="156.40" height="29.80" fill="url(#gw)"/>
<clipPath id="cc3_1"><path d="M811.9 656.1H968.3C963.20 670.99 961.50 685.01 961.50 699.90C961.50 714.79 963.20 728.81 968.3 743.7H811.9Z"/></clipPath>
<path d="M811.9 656.1H968.3C963.20 670.99 961.50 685.01 961.50 699.90C961.50 714.79 963.20 728.81 968.3 743.7H811.9Z" fill="url(#gc3)"/>
<g clip-path="url(#cc3_1)">
<rect x="811.9" y="694.65" width="140.76" height="17.51" fill="url(#gh)"/>
<rect x="811.9" y="656.1" width="5" height="87.60" fill="url(#gl)"/>
</g>
<clipPath id="cc3_3"><path d="M811.9 773.5H968.3C963.20 788.31 961.50 802.24 961.50 817.05C961.50 831.86 963.20 845.79 968.3 860.6H811.9Z"/></clipPath>
<path d="M811.9 773.5H968.3C963.20 788.31 961.50 802.24 961.50 817.05C961.50 831.86 963.20 845.79 968.3 860.6H811.9Z" fill="url(#gc3)"/>
<g clip-path="url(#cc3_3)">
<rect x="811.9" y="811.81" width="140.76" height="17.45" fill="url(#gh)"/>
<rect x="811.9" y="773.5" width="5" height="87.10" fill="url(#gl)"/>
</g>
<clipPath id="cc3_5"><path d="M811.9 891.2H968.3C963.20 906.02 961.50 919.98 961.50 934.80C961.50 949.62 963.20 963.58 968.3 978.4H811.9Z"/></clipPath>
<path d="M811.9 891.2H968.3C963.20 906.02 961.50 919.98 961.50 934.80C961.50 949.62 963.20 963.58 968.3 978.4H811.9Z" fill="url(#gc3)"/>
<g clip-path="url(#cc3_5)">
<rect x="811.9" y="929.56" width="140.76" height="17.46" fill="url(#gh)"/>
<rect x="811.9" y="891.2" width="5" height="87.20" fill="url(#gl)"/>
</g>
<text x="884.6" y="1038.9" text-anchor="middle" font-size="25.2">(3)</text>
</g>
<g transform="translate(846.3 677)"><circle r="17.9" fill="url(#gp)"/><text x="0.8" y="11.9" text-anchor="middle" font-size="35.5" font-weight="bold" class="ion">+</text></g>
<g transform="translate(940.3 679.1)"><circle r="17.9" fill="url(#gn)"/><text x="0.1" y="11.8" text-anchor="middle" font-size="36" font-weight="bold" class="ion">−</text></g>
<g transform="translate(859 719.9)"><circle r="17.9" fill="url(#gn)"/><text x="0.1" y="11.8" text-anchor="middle" font-size="36" font-weight="bold" class="ion">−</text></g>
<g transform="translate(924.1 723.7)"><circle r="17.9" fill="url(#gp)"/><text x="0.8" y="11.9" text-anchor="middle" font-size="35.5" font-weight="bold" class="ion">+</text></g>
<g transform="translate(870.1 796)"><circle r="17.9" fill="url(#gn)"/><text x="0.1" y="11.8" text-anchor="middle" font-size="36" font-weight="bold" class="ion">−</text></g>
<g transform="translate(931.3 800.3)"><circle r="17.9" fill="url(#gp)"/><text x="0.8" y="11.9" text-anchor="middle" font-size="35.5" font-weight="bold" class="ion">+</text></g>
<g transform="translate(837.4 836.8)"><circle r="17.9" fill="url(#gp)"/><text x="0.8" y="11.9" text-anchor="middle" font-size="35.5" font-weight="bold" class="ion">+</text></g>
<g transform="translate(909.2 842.3)"><circle r="17.9" fill="url(#gn)"/><text x="0.1" y="11.8" text-anchor="middle" font-size="36" font-weight="bold" class="ion">−</text></g>
<g transform="translate(870.1 910.4)"><circle r="17.9" fill="url(#gn)"/><text x="0.1" y="11.8" text-anchor="middle" font-size="36" font-weight="bold" class="ion">−</text></g>
<g transform="translate(935.2 916.3)"><circle r="17.9" fill="url(#gp)"/><text x="0.8" y="11.9" text-anchor="middle" font-size="35.5" font-weight="bold" class="ion">+</text></g>
<g transform="translate(839.1 956.3)"><circle r="17.9" fill="url(#gp)"/><text x="0.8" y="11.9" text-anchor="middle" font-size="35.5" font-weight="bold" class="ion">+</text></g>
<g transform="translate(921.5 956.7)"><circle r="17.9" fill="url(#gn)"/><text x="0.1" y="11.8" text-anchor="middle" font-size="36" font-weight="bold" class="ion">−</text></g>
<path d="M1096.3 832.5L1050 815.1V824.1H999.8V842.0H1050V849.9Z" fill="#5b9bd5"/>
<text x="1009.0" y="803" font-size="25.2">Size</text>
<path d="M1072.5 809.6V779.3" stroke="#000" stroke-width="2.1" fill="none"/>
<path d="M1072.5 771.3l-6.5 14.2h13z" fill="#000"/>
<g id="blk4">
<rect x="1118.8" y="627.2" width="26.20" height="381.00" fill="url(#ptex)"/>
<rect x="1145.0" y="627.2" width="156.10" height="29.80" fill="url(#gw)"/>
<rect x="1145.0" y="803.2" width="156.10" height="29.80" fill="url(#gw)"/>
<rect x="1145.0" y="979.7" width="156.10" height="28.50" fill="url(#gw)"/>
<clipPath id="cc4_1"><path d="M1145.0 657H1301.1C1295.70 681.85 1293.90 705.25 1293.90 730.10C1293.90 754.95 1295.70 778.35 1301.1 803.2H1145.0Z"/></clipPath>
<path d="M1145.0 657H1301.1C1295.70 681.85 1293.90 705.25 1293.90 730.10C1293.90 754.95 1295.70 778.35 1301.1 803.2H1145.0Z" fill="url(#gc4)"/>
<g clip-path="url(#cc4_1)">
<rect x="1145.0" y="727.77" width="140.49" height="24.54" fill="url(#gh)"/>
<rect x="1145.0" y="657" width="5" height="146.20" fill="url(#gl)"/>
</g>
<clipPath id="cc4_3"><path d="M1145.0 833H1301.1C1295.70 857.94 1293.90 881.41 1293.90 906.35C1293.90 931.29 1295.70 954.76 1301.1 979.7H1145.0Z"/></clipPath>
<path d="M1145.0 833H1301.1C1295.70 857.94 1293.90 881.41 1293.90 906.35C1293.90 931.29 1295.70 954.76 1301.1 979.7H1145.0Z" fill="url(#gc4)"/>
<g clip-path="url(#cc4_3)">
<rect x="1145.0" y="904.02" width="140.49" height="24.60" fill="url(#gh)"/>
<rect x="1145.0" y="833" width="5" height="146.70" fill="url(#gl)"/>
</g>
<text x="1227.5" y="1038.9" text-anchor="middle" font-size="25.2">(4)</text>
</g>
<g transform="translate(1273.5 679.1)"><circle r="17.9" fill="url(#gn)"/><text x="0.1" y="11.8" text-anchor="middle" font-size="36" font-weight="bold" class="ion">−</text></g>
<g transform="translate(1179.5 715.2)"><circle r="17.9" fill="url(#gp)"/><text x="0.8" y="11.9" text-anchor="middle" font-size="35.5" font-weight="bold" class="ion">+</text></g>
<g transform="translate(1305.3 758.6)"><circle r="17.9" fill="url(#gp)"/><text x="0.8" y="11.9" text-anchor="middle" font-size="35.5" font-weight="bold" class="ion">+</text></g>
<g transform="translate(1237.3 770.9)"><circle r="17.9" fill="url(#gn)"/><text x="0.1" y="11.8" text-anchor="middle" font-size="36" font-weight="bold" class="ion">−</text></g>
<g transform="translate(1262 866.2)"><circle r="17.9" fill="url(#gn)"/><text x="0.1" y="11.8" text-anchor="middle" font-size="36" font-weight="bold" class="ion">−</text></g>
<g transform="translate(1241.6 909.1)"><circle r="17.9" fill="url(#gp)"/><text x="0.8" y="11.9" text-anchor="middle" font-size="35.5" font-weight="bold" class="ion">+</text></g>
<g transform="translate(1171.4 952.9)"><circle r="17.9" fill="url(#gp)"/><text x="0.8" y="11.9" text-anchor="middle" font-size="35.5" font-weight="bold" class="ion">+</text></g>
<g transform="translate(1334.3 947.4)"><circle r="17.9" fill="url(#gn)"/><text x="0.1" y="11.8" text-anchor="middle" font-size="36" font-weight="bold" class="ion">−</text></g>
<path d="M1444 834.3L1397.2 816.9V825.9H1347V843.8H1397.2V851.6999999999999Z" fill="#5b9bd5"/>
<text x="1354.9" y="803.2" font-size="25.2">Size</text>
<path d="M1418.6 809.6V779.3" stroke="#000" stroke-width="2.1" fill="none"/>
<path d="M1418.6 771.3l-6.5 14.2h13z" fill="#000"/>
<g id="blk5">
<rect x="1465.1" y="627.2" width="26.70" height="381.00" fill="url(#ptex)"/>
<rect x="1491.8" y="627.2" width="156.10" height="29.80" fill="url(#gw)"/>
<rect x="1491.8" y="979.7" width="156.10" height="28.50" fill="url(#gw)"/>
<clipPath id="cc5_1"><path d="M1491.8 657H1647.9C1642.43 711.86 1640.60 763.49 1640.60 818.35C1640.60 873.21 1642.43 924.84 1647.9 979.7H1491.8Z"/></clipPath>
<path d="M1491.8 657H1647.9C1642.43 711.86 1640.60 763.49 1640.60 818.35C1640.60 873.21 1642.43 924.84 1647.9 979.7H1491.8Z" fill="url(#gc5)"/>
<g clip-path="url(#cc5_1)">
<rect x="1491.8" y="819.69" width="140.49" height="45.72" fill="url(#gh)"/>
<rect x="1491.8" y="657" width="5" height="322.70" fill="url(#gl)"/>
</g>
<text x="1562.5" y="1038.9" text-anchor="middle" font-size="25.2">(5)</text>
</g>
<g transform="translate(1529.7 697.4)"><circle r="17.9" fill="url(#gp)"/><text x="0.8" y="11.9" text-anchor="middle" font-size="35.5" font-weight="bold" class="ion">+</text></g>
<g transform="translate(1687 694)"><circle r="17.9" fill="url(#gn)"/><text x="0.1" y="11.8" text-anchor="middle" font-size="36" font-weight="bold" class="ion">−</text></g>
<g transform="translate(1607.5 781.1)"><circle r="17.9" fill="url(#gn)"/><text x="0.1" y="11.8" text-anchor="middle" font-size="36" font-weight="bold" class="ion">−</text></g>
<g transform="translate(1540.8 864.5)"><circle r="17.9" fill="url(#gp)"/><text x="0.8" y="11.9" text-anchor="middle" font-size="35.5" font-weight="bold" class="ion">+</text></g>
<g transform="translate(1543.4 939.3)"><circle r="17.9" fill="url(#gn)"/><text x="0.1" y="11.8" text-anchor="middle" font-size="36" font-weight="bold" class="ion">−</text></g>
<g transform="translate(1657.7 927.4)"><circle r="17.9" fill="url(#gp)"/><text x="0.8" y="11.9" text-anchor="middle" font-size="35.5" font-weight="bold" class="ion">+</text></g>
<rect x="1598.8" y="845.5" width="32.8" height="20" fill="none" stroke="#3a3a3a" stroke-width="2.7" stroke-dasharray="7.3 6.8" stroke-dashoffset="0.7"/>
<path d="M1634.6 844.3L1762.3 637.2" stroke="#3a3a3a" stroke-width="2.8" fill="none" stroke-dasharray="16.8 11.3" stroke-dashoffset="1.5"/>
<path d="M1634.8 867.6L1758.5 1008" stroke="#3a3a3a" stroke-width="2.8" fill="none" stroke-dasharray="16.8 11.3" stroke-dashoffset="1.5"/>
<g id="inset">
<line x1="1762.50" y1="632.10" x2="1991.00" y2="632.10" stroke="#000" stroke-width="2.6" stroke-dasharray="16.4 11.87" stroke-dashoffset="10.80"/>
<line x1="1763.80" y1="630.80" x2="1763.80" y2="1011.60" stroke="#000" stroke-width="2.6" stroke-dasharray="16.4 11.85" stroke-dashoffset="3.00"/>
<line x1="1989.70" y1="630.80" x2="1989.70" y2="1011.60" stroke="#000" stroke-width="2.6" stroke-dasharray="16.4 11.88" stroke-dashoffset="10.60"/>
<line x1="1762.50" y1="1010.30" x2="1991.00" y2="1010.30" stroke="#000" stroke-width="2.6" stroke-dasharray="16.4 11.87" stroke-dashoffset="21.17"/>
<rect x="1768.6" y="679.2" width="202" height="23.5" fill="#a9a9a9"/>
<rect x="1774.2" y="823" width="201.6" height="23.8" fill="#a9a9a9"/>
<rect x="1774.2" y="982" width="201.6" height="23.1" fill="#a9a9a9"/>
<path d="M1799.8 661.5V679.5" stroke="#000" stroke-width="2.4" fill="none"/>
<path d="M1870.4 661.5V679.5" stroke="#000" stroke-width="2.4" fill="none"/>
<path d="M1938.3 661.5V679.5" stroke="#000" stroke-width="2.4" fill="none"/>
<path d="M1798.4 805V823.3" stroke="#000" stroke-width="2.4" fill="none"/>
<path d="M1869.3 805V823.3" stroke="#000" stroke-width="2.4" fill="none"/>
<path d="M1938.2 805V823.3" stroke="#000" stroke-width="2.4" fill="none"/>
<path d="M1798.5 959.5V982.3" stroke="#000" stroke-width="2.4" fill="none"/>
<path d="M1869.4 959.5V982.3" stroke="#000" stroke-width="2.4" fill="none"/>
<path d="M1938.3 959.5V982.3" stroke="#000" stroke-width="2.4" fill="none"/>
<text x="1789.6" y="660.0" font-size="25">O<tspan dy="-11.6" dx="0.2" font-size="17.5">−</tspan></text>
<text x="1860.2" y="660.0" font-size="25">O<tspan dy="-11.6" dx="0.2" font-size="17.5">−</tspan></text>
<text x="1927.8" y="660.0" font-size="25">O<tspan dy="-11.6" dx="0.2" font-size="17.5">−</tspan></text>
<text x="1788.4" y="803.7" font-size="25">OH</text>
<text x="1859.3" y="803.7" font-size="25">OH</text>
<text x="1928.3" y="803.7" font-size="25">OH</text>
<text x="1788.7" y="958.2" font-size="25">OH<tspan dy="7.8" dx="-0.6" font-size="17.3">2</tspan><tspan dy="-19.3" dx="-9.4" font-size="17">+</tspan></text>
<text x="1859.4" y="958.2" font-size="25">OH<tspan dy="7.8" dx="-0.6" font-size="17.3">2</tspan><tspan dy="-19.3" dx="-9.4" font-size="17">+</tspan></text>
<text x="1927.9" y="958.2" font-size="25">OH<tspan dy="7.8" dx="-0.6" font-size="17.3">2</tspan><tspan dy="-19.3" dx="-9.4" font-size="17">+</tspan></text>
<text x="1779.9" y="748.2" font-size="25">pH</text>
<text x="1935.7" y="746.2" font-size="25">pH</text>
<text x="1782.0" y="893.7" font-size="25">pH</text>
<text x="1937.8" y="891.8" font-size="25">pH</text>
<text x="1734.3" y="826.5" text-anchor="middle" font-size="25.2">pI</text>
<text x="1734.3" y="857.8" text-anchor="middle" font-size="25.2">8~9</text>
<path d="M1842.2 773.6V713.3" stroke="#000" stroke-width="2.8" fill="none"/>
<path d="M1843.6000000000001 705.3V735.9L1833.4 735.0999999999999Z" fill="#000"/>
<path d="M1894.8 705.3V765.6" stroke="#000" stroke-width="2.8" fill="none"/>
<path d="M1893.3999999999999 773.6V743.6L1903.6 744.3000000000001Z" fill="#000"/>
<path d="M1869.1 707.9L1883.8999999999999 723.0H1876.6V752.9H1883.8999999999999L1869.1 767.5L1854.3 752.9H1861.6V723.0H1854.3Z" fill="#a9a9a9"/>
<path d="M1843.9 918.6V858.5" stroke="#000" stroke-width="2.8" fill="none"/>
<path d="M1845.3000000000002 850.5V881.1L1835.1000000000001 880.3Z" fill="#000"/>
<path d="M1896.8 850.5V910.6" stroke="#000" stroke-width="2.8" fill="none"/>
<path d="M1895.3999999999999 918.6V888.6L1905.6 889.3000000000001Z" fill="#000"/>
<path d="M1869.1 858.6L1883.8999999999999 873.7H1876.6V904.0H1883.8999999999999L1869.1 918.6L1854.3 904.0H1861.6V873.7H1854.3Z" fill="#a9a9a9"/>
</g>
</g>
</svg>
</body></html>
